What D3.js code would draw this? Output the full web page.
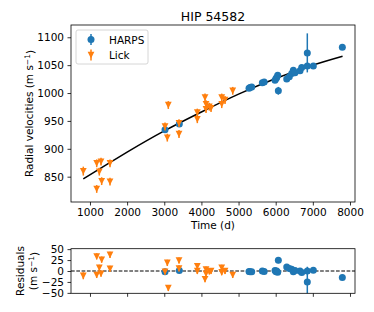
<!DOCTYPE html>
<html>
<head>
<meta charset="utf-8">
<script src="https://cdn.jsdelivr.net/npm/d3@7"></script>
<style>
  body { margin: 0; background: #fff; }
  text { font-family: "DejaVu Sans", sans-serif; fill: #000; }
</style>
</head>
<body>
<div id="chart"></div>
<script>
// HARPS: time (d), rv (m/s), error, residual
var harpsTime = [3020, 3405, 5282, 5309, 5354, 5640, 5690, 5982, 6009, 6027, 6054, 6071, 6297, 6367, 6431, 6475, 6520, 6655, 6701, 6851, 6851, 7013, 7794];
var harpsRv   = [934, 944.5, 1008.5, 1010, 1011, 1018.5, 1020, 1023, 1026, 1028, 1032, 1004, 1025, 1029, 1035, 1041, 1036.5, 1040, 1046, 1072, 1048.5, 1048.5, 1082];
var harpsErr  = [2, 2, 1.5, 1.5, 1.5, 1.5, 1.5, 1.5, 1.5, 1.5, 1.5, 7, 1.5, 1.5, 1.5, 1.5, 1.5, 1.5, 1.5, 35, 1.5, 1.5, 2];
var harpsRes  = [-1.5, 1, -1, -1.5, -1.5, 0, -1, 1, -2, 0, -3, 24.5, 9, 6, 4, -2, 1, 0, -3.7, -25, 0, 2, -15];

// Lick
var lickTime = [820, 1181, 1181, 1251, 1297, 1315, 1539, 1539, 3020, 3082, 3109, 3397, 3397, 3890, 3890, 4097, 4124, 4124, 4213, 4259, 4547, 4547, 4636, 4843];
var lickRv   = [860, 874, 828, 859, 877, 842, 874, 841, 940, 920, 978.5, 946, 926.5, 965, 953, 992, 980, 971, 975.5, 973, 992, 980, 987.5, 1004];
var lickErr  = [8, 7, 7, 7, 7, 7, 7, 7, 7, 7, 7, 7, 7, 7, 7, 7, 7, 7, 7, 7, 7, 7, 7, 7];
var lickRes  = [-11, -9, 33.5, 7.5, -6, 26, 5, 37, -1.5, 18.7, -39, 6, 24, 0, 11, -18.7, -6, 3.5, -1, 0, 7.5, -3, 0, -9];

// model curve
var modelTime = [820, 1500, 2000, 3000, 4000, 5000, 6000, 7000, 7800];
var modelRv   = [846, 874, 894, 932, 966, 998, 1026, 1050, 1066];

var xTicks = [1000, 2000, 3000, 4000, 5000, 6000, 7000, 8000];
var yTicks = [850, 900, 950, 1000, 1050, 1100];
var resTicks = [-50, -25, 0, 25, 50];

var blue = "#1f77b4", orange = "#ff7f0e";

var width = 374, height = 312;
var main = {left: 71, right: 355, top: 25, bottom: 202};
var res = {top: 248.7, bottom: 293.3};

var svg = d3.select("#chart").append("svg")
  .attr("width", width)
  .attr("height", height);

var xScale = d3.scaleLinear().domain([489, 8135]).range([main.left, main.right]);
var yScale = d3.scaleLinear().domain([804.6, 1122]).range([main.bottom, main.top]);
var rScale = d3.scaleLinear().domain([-51, 51]).range([res.bottom, res.top]);

var fontSize = "10.5px";
function fmt(d) { return d < 0 ? "\u2212" + Math.abs(d) : "" + d; }

function zip(t, v, e) {
  return t.map(function(d, i) { return {t: d, v: v[i], e: e[i]}; });
}
var harps = zip(harpsTime, harpsRv, harpsErr);
var lick = zip(lickTime, lickRv, lickErr);
var harpsR = zip(harpsTime, harpsRes, harpsErr);
var lickR = zip(lickTime, lickRes, lickErr);

var triPath = "M-3.4,-3.2L3.4,-3.2L0,3.4Z";

function drawPoints(g, data, ys, colour, shape) {
  g.selectAll(null).data(data).enter().append("line")
    .attr("x1", function(d) { return xScale(d.t); })
    .attr("x2", function(d) { return xScale(d.t); })
    .attr("y1", function(d) { return ys(d.v - d.e); })
    .attr("y2", function(d) { return ys(d.v + d.e); })
    .attr("stroke", colour)
    .attr("stroke-width", 1.5);
  if (shape === "circle") {
    g.selectAll(null).data(data).enter().append("circle")
      .attr("cx", function(d) { return xScale(d.t); })
      .attr("cy", function(d) { return ys(d.v); })
      .attr("r", 3.5)
      .attr("fill", colour);
  } else {
    g.selectAll(null).data(data).enter().append("path")
      .attr("d", triPath)
      .attr("transform", function(d) { return "translate(" + xScale(d.t) + "," + ys(d.v) + ")"; })
      .attr("fill", colour);
  }
}

// ---- main panel
svg.append("clipPath").attr("id", "clip-main")
  .append("rect").attr("x", main.left).attr("y", main.top)
  .attr("width", main.right - main.left).attr("height", main.bottom - main.top);

var gMain = svg.append("g").attr("clip-path", "url(#clip-main)");

var line = d3.line()
  .x(function(d, i) { return xScale(modelTime[i]); })
  .y(function(d) { return yScale(d); })
  .curve(d3.curveMonotoneX);

gMain.append("path")
  .attr("d", line(modelRv))
  .attr("fill", "none")
  .attr("stroke", "#000")
  .attr("stroke-width", 1.5);

drawPoints(gMain, harps, yScale, blue, "circle");
drawPoints(gMain, lick, yScale, orange, "tri");

var xAxis = d3.axisBottom(xScale).tickValues(xTicks).tickSize(3.5).tickPadding(3.5).tickFormat(d3.format("d"));
var yAxis = d3.axisLeft(yScale).tickValues(yTicks).tickSize(3.5).tickPadding(3.5).tickFormat(d3.format("d"));

function styleAxis(g) {
  g.select(".domain").remove();
  g.selectAll(".tick line").attr("stroke", "#000").attr("stroke-width", 0.8);
  g.selectAll(".tick text").style("font-size", fontSize).style("font-family", "DejaVu Sans");
}

svg.append("g").attr("transform", "translate(0," + main.bottom + ")").call(xAxis).call(styleAxis);
svg.append("g").attr("transform", "translate(" + main.left + ",0)").call(yAxis).call(styleAxis);

svg.append("rect")
  .attr("x", main.left).attr("y", main.top)
  .attr("width", main.right - main.left).attr("height", main.bottom - main.top)
  .attr("fill", "none").attr("stroke", "#000").attr("stroke-width", 0.8);

// title and labels
svg.append("text")
  .attr("x", (main.left + main.right) / 2).attr("y", 21)
  .attr("text-anchor", "middle")
  .style("font-size", "12.5px")
  .text("HIP 54582");

svg.append("text")
  .attr("x", (main.left + main.right) / 2).attr("y", 229)
  .attr("text-anchor", "middle")
  .style("font-size", fontSize)
  .text("Time (d)");

var yLab = svg.append("text")
  .attr("transform", "translate(33," + ((main.top + main.bottom) / 2) + ") rotate(-90)")
  .attr("text-anchor", "middle")
  .style("font-size", fontSize);
yLab.append("tspan").text("Radial velocities (m s");
yLab.append("tspan").attr("dy", "-0.4em").style("font-size", "7.5px").text("\u22121");
yLab.append("tspan").attr("dy", "0.4em").text(")");

// legend
var legend = svg.append("g").attr("transform", "translate(76,30)");
legend.append("rect")
  .attr("width", 72).attr("height", 34).attr("rx", 2)
  .attr("fill", "#fff").attr("fill-opacity", 0.8)
  .attr("stroke", "#ccc").attr("stroke-width", 0.8);
var legendItems = [
  {name: "HARPS", colour: blue, shape: "circle"},
  {name: "Lick", colour: orange, shape: "tri"}
];
legendItems.forEach(function(d, i) {
  var y = 9.5 + i * 15.5;
  var item = legend.append("g").attr("transform", "translate(15," + y + ")");
  item.append("line").attr("y1", -5.5).attr("y2", 5.5)
    .attr("stroke", d.colour).attr("stroke-width", 1.5);
  if (d.shape === "circle") {
    item.append("circle").attr("r", 3.5).attr("fill", d.colour);
  } else {
    item.append("path").attr("d", triPath).attr("fill", d.colour);
  }
  legend.append("text")
    .attr("x", 33).attr("y", y + 4)
    .style("font-size", fontSize)
    .text(d.name);
});

// ---- residual panel
svg.append("clipPath").attr("id", "clip-res")
  .append("rect").attr("x", main.left).attr("y", res.top)
  .attr("width", main.right - main.left).attr("height", res.bottom - res.top);

var gRes = svg.append("g").attr("clip-path", "url(#clip-res)");

gRes.append("line")
  .attr("x1", main.left).attr("x2", main.right)
  .attr("y1", rScale(0)).attr("y2", rScale(0))
  .attr("stroke", "#000").attr("stroke-width", 1)
  .attr("stroke-dasharray", "3.7,1.6");

drawPoints(gRes, harpsR, rScale, blue, "circle");
drawPoints(gRes, lickR, rScale, orange, "tri");

var xAxisR = d3.axisBottom(xScale).tickValues(xTicks).tickSize(3.5).tickFormat("");
var yAxisR = d3.axisLeft(rScale).tickValues(resTicks).tickSize(3.5).tickPadding(3.5).tickFormat(fmt);

svg.append("g").attr("transform", "translate(0," + res.bottom + ")").call(xAxisR).call(styleAxis);
svg.append("g").attr("transform", "translate(" + main.left + ",0)").call(yAxisR).call(styleAxis);

svg.append("rect")
  .attr("x", main.left).attr("y", res.top)
  .attr("width", main.right - main.left).attr("height", res.bottom - res.top)
  .attr("fill", "none").attr("stroke", "#000").attr("stroke-width", 0.8);

svg.append("text")
  .attr("transform", "translate(24," + ((res.top + res.bottom) / 2) + ") rotate(-90)")
  .attr("text-anchor", "middle")
  .style("font-size", fontSize)
  .text("Residuals");
var rLab2 = svg.append("text")
  .attr("transform", "translate(37," + ((res.top + res.bottom) / 2) + ") rotate(-90)")
  .attr("text-anchor", "middle")
  .style("font-size", fontSize);
rLab2.append("tspan").text("(m s");
rLab2.append("tspan").attr("dy", "-0.4em").style("font-size", "7.5px").text("\u22121");
rLab2.append("tspan").attr("dy", "0.4em").text(")");
</script>
</body>
</html>
